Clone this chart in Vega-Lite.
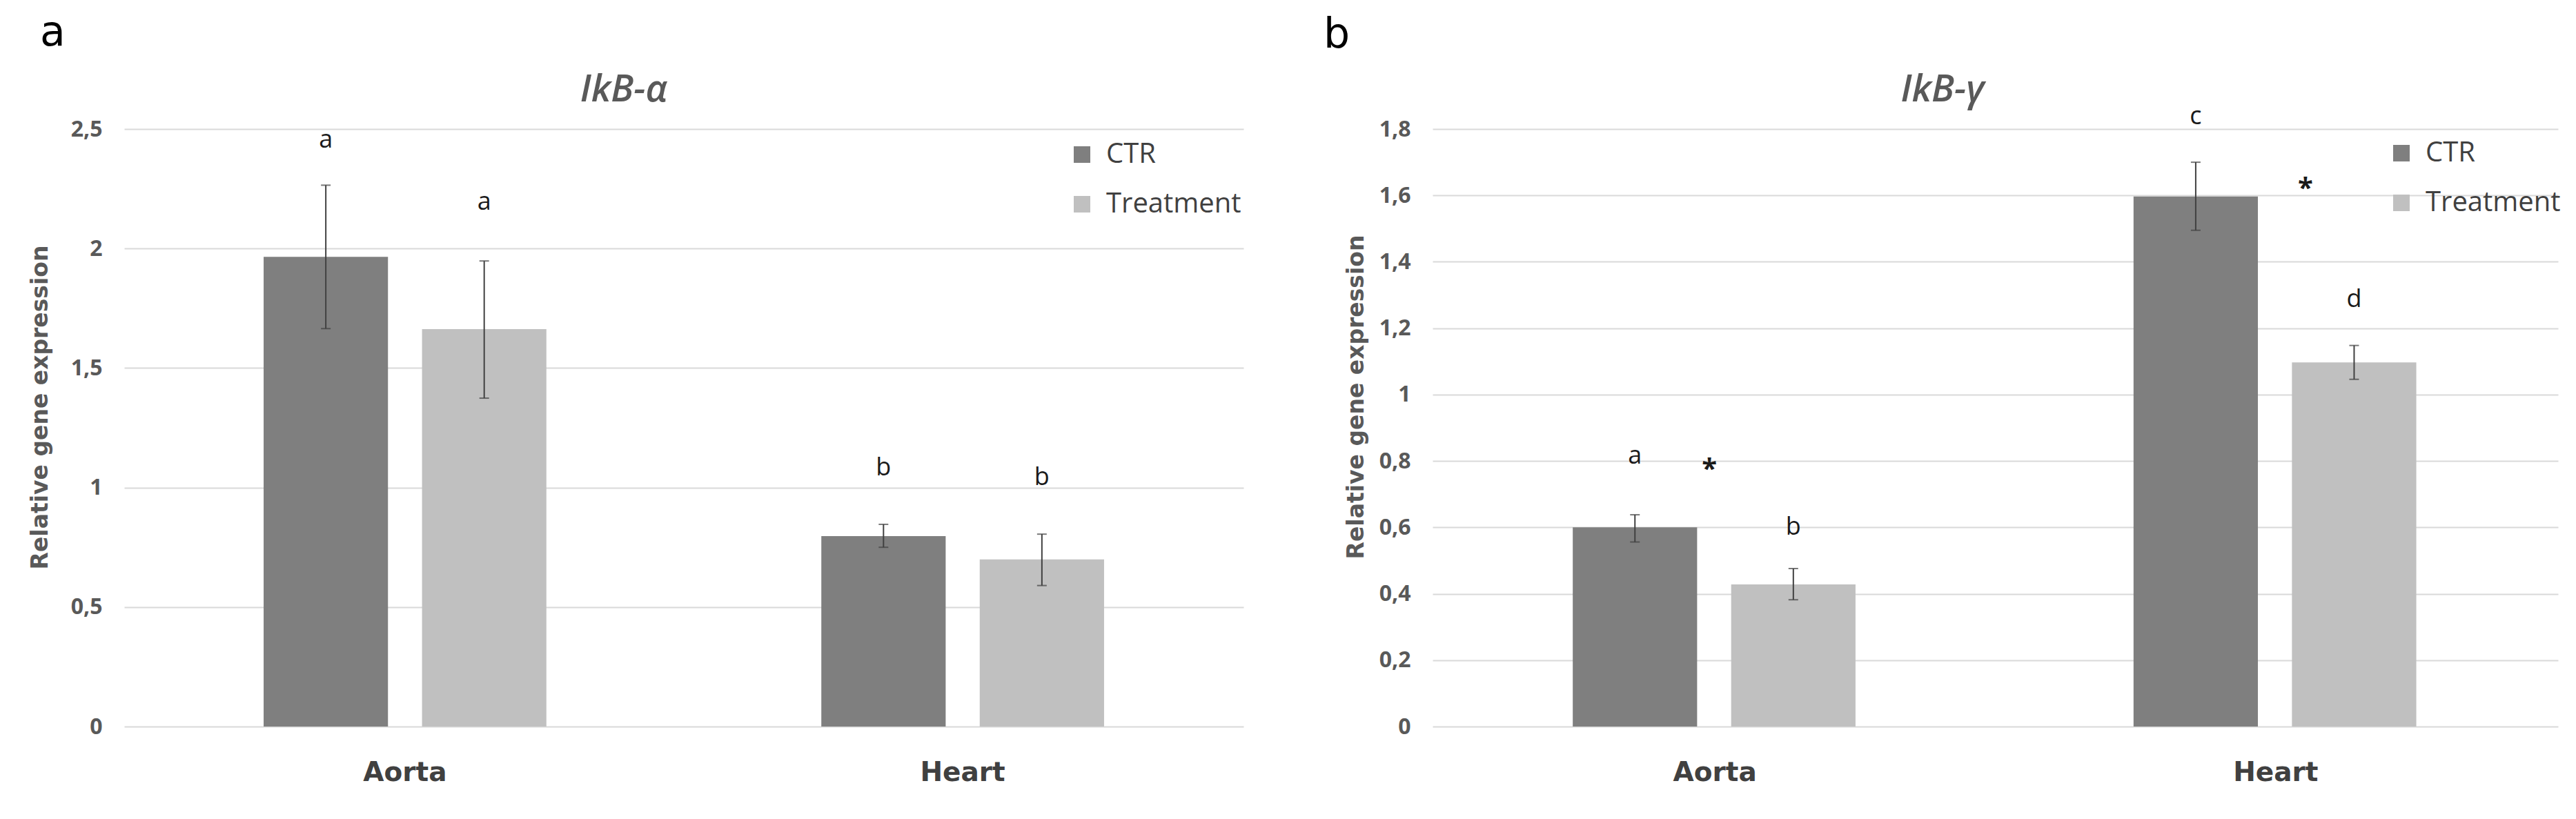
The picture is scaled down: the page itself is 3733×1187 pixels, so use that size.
{
  "$schema": "https://vega.github.io/schema/vega-lite/v6.json",
  "background": "white",
  "padding": {"left": 42, "top": 18, "right": 0, "bottom": 0},
  "spacing": 116,
  "resolve": {"scale": {"fill": "independent"}, "legend": {"fill": "independent"}},
  "config": {
    "view": {"stroke": null},
    "font": "Open Sans"
  },
  "datasets": {
    "a": [
      {"tissue": "Aorta", "group": "CTR", "value": 1.965, "lower": 1.665, "upper": 2.265, "label": "a", "label_y": 2.422},
      {"tissue": "Aorta", "group": "Treatment", "value": 1.663, "lower": 1.374, "upper": 1.948, "label": "a", "label_y": 2.162},
      {"tissue": "Heart", "group": "CTR", "value": 0.797, "lower": 0.75, "upper": 0.846, "label": "b", "label_y": 1.051},
      {"tissue": "Heart", "group": "Treatment", "value": 0.699, "lower": 0.59, "upper": 0.805, "label": "b", "label_y": 1.01}
    ],
    "b": [
      {"tissue": "Aorta", "group": "CTR", "value": 0.6, "lower": 0.556, "upper": 0.638, "label": "a", "label_y": 0.792},
      {"tissue": "Aorta", "group": "Treatment", "value": 0.428, "lower": 0.382, "upper": 0.476, "label": "b", "label_y": 0.578},
      {"tissue": "Heart", "group": "CTR", "value": 1.597, "lower": 1.495, "upper": 1.7, "label": "c", "label_y": 1.815},
      {"tissue": "Heart", "group": "Treatment", "value": 1.097, "lower": 1.046, "upper": 1.148, "label": "d", "label_y": 1.264}
    ],
    "stars": [
      {"tissue": "Aorta", "star": "*", "star_y": 0.749},
      {"tissue": "Heart", "star": "*", "star_y": 1.595}
    ]
  },
  "hconcat": [
    {
      "title": {"text": "a", "anchor": "start", "frame": "bounds", "font": "DejaVu Sans", "fontSize": 60, "fontWeight": "normal", "color": "#000000", "dx": 16, "offset": 25},
      "vconcat": [
        {
          "title": {"text": "IkB-α", "anchor": "middle", "frame": "bounds", "font": "Open Sans", "fontStyle": "italic", "fontSize": 54, "fontWeight": 600, "color": "#595959", "dx": -18, "offset": 13},
          "width": 1622,
          "height": 866,
          "data": {"name": "a"},
          "encoding": {
            "x": {
              "field": "tissue", "type": "nominal", "sort": ["Aorta", "Heart"],
              "scale": {"paddingInner": 0.493, "paddingOuter": 0.25},
              "axis": {"title": null, "labelAngle": 0, "labelFont": "DejaVu Sans", "labelFontSize": 39, "labelFontWeight": "bold", "labelColor": "#404040", "labelPadding": 47, "ticks": false, "tickSize": 0, "domain": false, "grid": false}
            },
            "xOffset": {"field": "group", "type": "nominal", "sort": ["CTR", "Treatment"], "scale": {"paddingInner": 0.215, "paddingOuter": 0}}
          },
          "layer": [
            {
              "mark": {"type": "bar"},
              "encoding": {
                "y": {
                  "field": "value", "type": "quantitative",
                  "scale": {"domain": [0, 2.5], "nice": false},
                  "axis": {"title": "Relative gene expression", "titleFont": "DejaVu Sans", "titleFontSize": 33, "titleFontWeight": "bold", "titleColor": "#595959", "titleX": -105, "titleY": 403, "titleAngle": 270, "titleAlign": "center", "titleBaseline": "bottom", "labelFont": "Open Sans", "labelFontSize": 32, "labelFontWeight": "bold", "labelColor": "#595959", "labelPadding": 32, "ticks": false, "tickSize": 0, "domain": false, "grid": true, "gridColor": "#d9d9d9", "gridWidth": 2, "values": [0, 0.5, 1, 1.5, 2, 2.5], "labelExpr": "replace(format(datum.value, '.1~f'), '.', ',')"}
                },
                "fill": {
                  "field": "group", "type": "nominal",
                  "scale": {"domain": ["CTR", "Treatment"], "range": ["#7f7f7f", "#c0c0c0"]},
                  "legend": {"title": null, "orient": "none", "legendX": 1368, "legendY": 17, "padding": 0, "symbolType": "square", "symbolSize": 576, "symbolStrokeWidth": 0, "symbolOpacity": 1, "labelFont": "Open Sans", "labelFontSize": 40, "labelColor": "#404040", "labelOffset": 15, "labelLimit": 0, "rowPadding": 32}
                }
              }
            },
            {
              "mark": {"type": "rule", "color": "#404040", "strokeWidth": 2},
              "encoding": {"y": {"field": "lower", "type": "quantitative"}, "y2": {"field": "upper"}}
            },
            {
              "mark": {"type": "tick", "color": "#404040", "thickness": 2, "size": 14},
              "encoding": {"y": {"field": "upper", "type": "quantitative"}}
            },
            {
              "mark": {"type": "tick", "color": "#404040", "thickness": 2, "size": 14},
              "encoding": {"y": {"field": "lower", "type": "quantitative"}}
            },
            {
              "mark": {"type": "text", "font": "Open Sans", "fontSize": 36, "color": "#1a1a1a", "baseline": "alphabetic"},
              "encoding": {"y": {"field": "label_y", "type": "quantitative"}, "text": {"field": "label"}}
            }
          ]
        }
      ]
    },
    {
      "title": {"text": "b", "anchor": "start", "frame": "bounds", "font": "DejaVu Sans", "fontSize": 60, "fontWeight": "normal", "color": "#000000", "dx": -31, "offset": 22},
      "vconcat": [
        {
          "title": {"text": "IkB-γ", "anchor": "middle", "frame": "bounds", "font": "Open Sans", "fontStyle": "italic", "fontSize": 54, "fontWeight": 600, "color": "#595959", "dx": -13, "offset": -7},
          "width": 1631,
          "height": 866,
          "layer": [
            {
              "data": {"name": "b"},
              "encoding": {
                "x": {
                  "field": "tissue", "type": "nominal", "sort": ["Aorta", "Heart"],
                  "scale": {"paddingInner": 0.493, "paddingOuter": 0.25},
                  "axis": {"title": null, "labelAngle": 0, "labelFont": "DejaVu Sans", "labelFontSize": 39, "labelFontWeight": "bold", "labelColor": "#404040", "labelPadding": 47, "ticks": false, "tickSize": 0, "domain": false, "grid": false}
                },
                "xOffset": {"field": "group", "type": "nominal", "sort": ["CTR", "Treatment"], "scale": {"paddingInner": 0.205, "paddingOuter": 0}}
              },
              "layer": [
                {
                  "mark": {"type": "bar"},
                  "encoding": {
                    "y": {
                      "field": "value", "type": "quantitative",
                      "scale": {"domain": [0, 1.8], "nice": false},
                      "axis": {"title": "Relative gene expression", "titleFont": "DejaVu Sans", "titleFontSize": 33, "titleFontWeight": "bold", "titleColor": "#595959", "titleX": -94, "titleY": 388, "titleAngle": 270, "titleAlign": "center", "titleBaseline": "bottom", "labelFont": "Open Sans", "labelFontSize": 32, "labelFontWeight": "bold", "labelColor": "#595959", "labelPadding": 32, "ticks": false, "tickSize": 0, "domain": false, "grid": true, "gridColor": "#d9d9d9", "gridWidth": 2, "values": [0, 0.2, 0.4, 0.6, 0.8, 1, 1.2, 1.4, 1.6, 1.8], "labelExpr": "replace(format(datum.value, '.1~f'), '.', ',')"}
                    },
                    "fill": {
                      "field": "group", "type": "nominal",
                      "scale": {"domain": ["CTR", "Treatment"], "range": ["#7f7f7f", "#c0c0c0"]},
                      "legend": {"title": null, "orient": "none", "legendX": 1384, "legendY": 15, "padding": 0, "symbolType": "square", "symbolSize": 576, "symbolStrokeWidth": 0, "symbolOpacity": 1, "labelFont": "Open Sans", "labelFontSize": 40, "labelColor": "#404040", "labelOffset": 15, "labelLimit": 0, "rowPadding": 32}
                    }
                  }
                },
                {
                  "mark": {"type": "rule", "color": "#404040", "strokeWidth": 2},
                  "encoding": {"y": {"field": "lower", "type": "quantitative"}, "y2": {"field": "upper"}}
                },
                {
                  "mark": {"type": "tick", "color": "#404040", "thickness": 2, "size": 14},
                  "encoding": {"y": {"field": "upper", "type": "quantitative"}}
                },
                {
                  "mark": {"type": "tick", "color": "#404040", "thickness": 2, "size": 14},
                  "encoding": {"y": {"field": "lower", "type": "quantitative"}}
                },
                {
                  "mark": {"type": "text", "font": "Open Sans", "fontSize": 36, "color": "#1a1a1a", "baseline": "alphabetic"},
                  "encoding": {"y": {"field": "label_y", "type": "quantitative"}, "text": {"field": "label"}}
                }
              ]
            },
            {
              "data": {"name": "stars"},
              "transform": [{"filter": "datum.tissue === 'Aorta'"}],
              "mark": {"type": "text", "font": "Open Sans", "fontSize": 40, "fontWeight": "bold", "color": "#1a1a1a", "baseline": "alphabetic", "dx": -8},
              "encoding": {
                "x": {"field": "tissue", "type": "nominal", "sort": ["Aorta", "Heart"]},
                "y": {"field": "star_y", "type": "quantitative"},
                "text": {"field": "star"}
              }
            },
            {
              "data": {"name": "stars"},
              "transform": [{"filter": "datum.tissue === 'Heart'"}],
              "mark": {"type": "text", "font": "Open Sans", "fontSize": 40, "fontWeight": "bold", "color": "#1a1a1a", "baseline": "alphabetic", "dx": 43},
              "encoding": {
                "x": {"field": "tissue", "type": "nominal", "sort": ["Aorta", "Heart"]},
                "y": {"field": "star_y", "type": "quantitative"},
                "text": {"field": "star"}
              }
            }
          ]
        }
      ]
    }
  ]
}
